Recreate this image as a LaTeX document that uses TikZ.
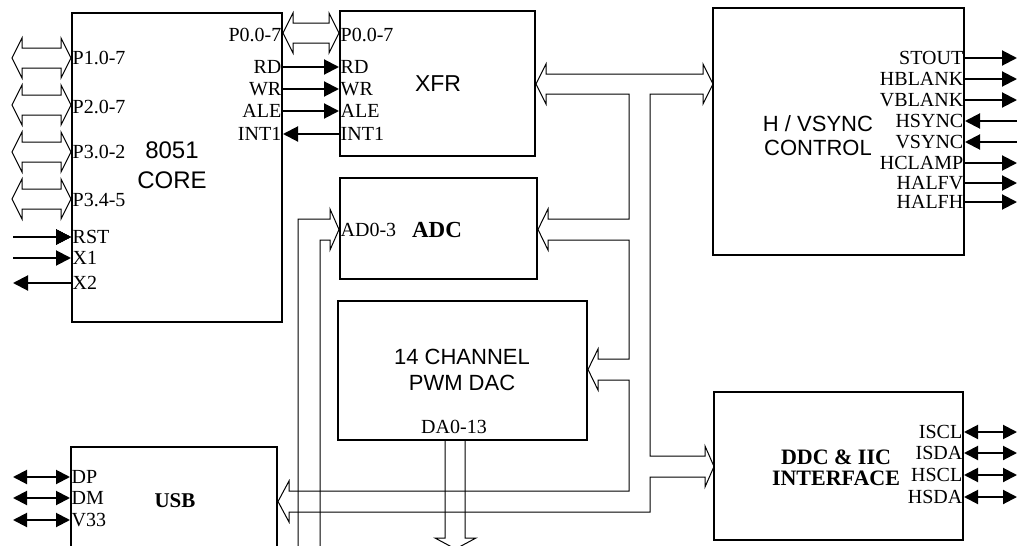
\documentclass[tikz,border=0pt]{standalone}
\usepackage{fontspec}
\setmainfont{Liberation Serif}
\setsansfont{Liberation Sans}
\usepackage{tikz}
\usetikzlibrary{arrows.meta}

% hollow two-way bus: #1 = y, #2 = left tip, #3 = right tip
\newcommand{\dbus}[3]{%
  \draw[bus] (#2,#1) -- ++(10,-20) -- ++(0,10) -- ++({#3-#2-20},0) -- ++(0,-10)
    -- ++(10,20) -- ++(-10,20) -- ++(0,-10) -- ++({#2-#3+20},0) -- ++(0,10) -- cycle;}

\begin{document}
\begin{tikzpicture}[x=1pt, y=-1pt,
    blk/.style={draw, line width=2pt, inner sep=0pt},
    pin/.style={font=\fontsize{20}{20}\selectfont, inner sep=1.5pt, text height=13pt, text depth=0pt},
    ttl/.style={font=\sffamily\fontsize{22}{25}\selectfont, align=center, inner sep=0pt},
    bld/.style={font=\bfseries\fontsize{22}{21}\selectfont, align=center, inner sep=0pt},
    sig/.style={line width=2pt, -{Triangle[length=15pt,width=15pt]}},
    sigl/.style={line width=2pt, {Triangle[length=15pt,width=15pt]}-},
    bidir/.style={line width=2pt, {Triangle[length=14pt,width=14pt]}-{Triangle[length=14pt,width=14pt]}},
    bus/.style={line width=1pt}]
    \useasboundingbox (0,0) rectangle (1018,546);
    \clip (0,0) rectangle (1018,546);

    % Blocks
    \node[blk, minimum width=210pt, minimum height=309pt] (core) at (177,167.5) {};
    \node[blk, minimum width=195pt, minimum height=145pt] (xfr) at (437.5,83.5) {};
    \node[blk, minimum width=197pt, minimum height=101pt] (adc) at (438.5,228.5) {};
    \node[blk, minimum width=249pt, minimum height=139pt] (dac) at (462.5,370.5) {};
    \node[blk, minimum width=206pt, minimum height=133pt] (usb) at (174,513.5) {};
    \node[blk, minimum width=251pt, minimum height=247pt] (hv) at (838.5,131.5) {};
    \node[blk, minimum width=249pt, minimum height=148pt] (ddc) at (838.5,466) {};

    % Titles
    \node[ttl, font=\sffamily\fontsize{24}{30}\selectfont] (coret) at (172,165) {8051\\CORE};
    \node[ttl, font=\sffamily\fontsize{23}{23}\selectfont] (xfrt) at (438,84) {XFR};
    \node[bld, font=\bfseries\fontsize{23}{23}\selectfont] (adct) at (437,230) {ADC};
    \node[ttl, font=\sffamily\fontsize{22}{26}\selectfont] (dact) at (462,370) {14 CHANNEL\\PWM DAC};
    \node[ttl, font=\sffamily\fontsize{22}{24}\selectfont] (hvt) at (818,136) {H / VSYNC\\CONTROL};
    \node[bld] (ddct) at (836,467.5) {DDC \& IIC\\INTERFACE};
    \node[bld, font=\bfseries\fontsize{21}{21}\selectfont] (usbt) at (175,501) {USB};

    % Free ends
    \coordinate (lft) at (13,0);
    \coordinate (rgt) at (1017,0);

    % 8051 core pins
    \foreach \n/\t/\y in {p1/P1.0-7/58, p2/P2.0-7/107, p30/P3.0-2/152, p34/P3.4-5/200,
                          rst/RST/237, xa/X1/258, xb/X2/283}
        \node[pin, anchor=west] (\n) at (core.west |- 0,\y) {\t};
    \foreach \n/\t/\y in {cp0/P0.0-7/35, crd/RD/67, cwr/WR/89, cale/ALE/111, cint/INT1/134}
        \node[pin, anchor=east] (\n) at (core.east |- 0,\y) {\t};
    \foreach \y in {58,105,152,199}
        \dbus{\y}{12}{71}
    \draw[sig] (lft |- rst) -- (core.west |- rst);
    \draw[sig] (lft |- xa) -- (core.west |- xa);
    \draw[sig] (core.west |- xb) -- (lft |- xb);

    % XFR pins
    \foreach \n/\t/\y in {xp0/P0.0-7/35, xrd/RD/67, xwr/WR/89, xale/ALE/111, xint/INT1/134}
        \node[pin, anchor=west] (\n) at (xfr.west |- 0,\y) {\t};
    \dbus{33}{283}{339}
    \draw[sig] (core.east |- crd) -- (xfr.west |- xrd);
    \draw[sig] (core.east |- cwr) -- (xfr.west |- xwr);
    \draw[sig] (core.east |- cale) -- (xfr.west |- xale);
    \draw[sigl] (core.east |- cint) -- (xfr.west |- xint);

    % ADC and DAC pins
    \node[pin, anchor=west] (ad) at (adc.west |- 0,230) {AD0-3};
    \node[pin, anchor=south] (da) at (454,435) {DA0-13};
    \draw[bus] (298,560) -- (298,219) -- (330,219) -- (330,209) -- (339,229.5)
        -- (330,250) -- (330,240) -- (320,240) -- (320,560);
    \draw[bus] (445,440) -- (445,538) -- (435,538) -- (455.5,549) -- (476,538)
        -- (465,538) -- (465,440);

    % Internal bus
    \draw[bus] (546,74) -- (703,74) -- (703,64) -- (713,84) -- (703,104) -- (703,94)
        -- (650,94) -- (650,456) -- (705,456) -- (705,446) -- (714,466.5) -- (705,487)
        -- (705,477) -- (650,477) -- (650,512) -- (289,512) -- (289,522) -- (278,501.5)
        -- (289,481) -- (289,491) -- (629,491) -- (629,380) -- (598,380) -- (598,390)
        -- (588,369.5) -- (598,349) -- (598,359) -- (629,359) -- (629,240) -- (548,240)
        -- (548,250) -- (538,229.5) -- (548,209) -- (548,219) -- (629,219) -- (629,94)
        -- (546,94) -- (546,104) -- (536,84) -- (546,64) -- cycle;

    % H / VSYNC pins
    \foreach \n/\t/\y in {stout/STOUT/58, hblank/HBLANK/79, vblank/VBLANK/100,
                          hsync/HSYNC/121, vsync/VSYNC/142, hclamp/HCLAMP/163,
                          halfv/HALFV/183, halfh/HALFH/202}
        \node[pin, anchor=east] (\n) at (hv.east |- 0,\y) {\t};
    \foreach \n in {stout,hblank,vblank,hclamp,halfv,halfh}
        \draw[sig] (hv.east |- \n) -- (rgt |- \n);
    \foreach \n in {hsync,vsync}
        \draw[sigl] (hv.east |- \n) -- (rgt |- \n);

    % DDC pins
    \foreach \n/\t/\y in {iscl/ISCL/432, isda/ISDA/453, hscl/HSCL/475, hsda/HSDA/497}
        \node[pin, anchor=east] (\n) at (ddc.east |- 0,\y) {\t};
    \foreach \n in {iscl,isda,hscl,hsda}
        \draw[bidir] (ddc.east |- \n) -- (rgt |- \n);

    % USB pins
    \foreach \n/\t/\y in {dp/DP/477, dm/DM/498, vtt/V33/520}
        \node[pin, anchor=west] (\n) at (usb.west |- 0,\y) {\t};
    \foreach \n in {dp,dm,vtt}
        \draw[bidir] (lft |- \n) -- (usb.west |- \n);
\end{tikzpicture}
\end{document}
